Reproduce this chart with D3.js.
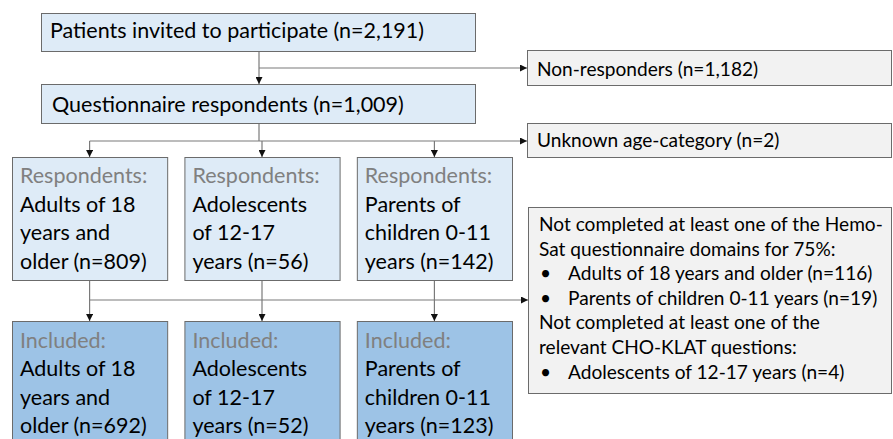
<!DOCTYPE html>
<html>
<head>
<meta charset="utf-8">
<script src="https://cdn.jsdelivr.net/npm/d3@7"></script>
<style>
  html, body { margin: 0; padding: 0; background: #fff; }
  svg text { font-family: Lato, "Open Sans", sans-serif; }
</style>
</head>
<body>
<div id="chart"></div>
<script>
// flow data
const invited = 2191;
const respondents = 1009;
const nonResponders = 1182;
const unknownAge = 2;

const groups = ['adults', 'adolescents', 'parents'];
const groupLines = [
    ['Adults of 18', 'years and', 'older'],
    ['Adolescents', 'of 12-17', 'years'],
    ['Parents of', 'children 0-11', 'years']
];
const groupRespondents = [809, 56, 142];
const groupIncluded = [692, 52, 123];

const exclusionLines = [
    { text: 'Not completed at least one of the Hemo-', bullet: false },
    { text: 'Sat questionnaire domains for 75%:', bullet: false },
    { text: 'Adults of 18 years and older (n=116)', bullet: true },
    { text: 'Parents of children 0-11 years (n=19)', bullet: true },
    { text: 'Not completed at least one of the', bullet: false },
    { text: 'relevant CHO-KLAT questions:', bullet: false },
    { text: 'Adolescents of 12-17 years (n=4)', bullet: true }
];

const fmt = d3.format(',');
const width = 893, height = 439;

const colors = {
    light: '#deebf7',
    dark: '#9dc3e6',
    grey: '#f2f2f2',
    border: '#6b6b6b',
    line: '#7a7a7a',
    label: '#808080',
    text: '#000'
};

const svg = d3.select('#chart')
    .append('svg')
    .attr('width', width)
    .attr('height', height);

svg.append('defs').append('marker')
    .attr('id', 'arrow')
    .attr('viewBox', '0 0 10 10')
    .attr('refX', 10).attr('refY', 5)
    .attr('markerWidth', 7).attr('markerHeight', 7)
    .attr('markerUnits', 'userSpaceOnUse')
    .attr('orient', 'auto')
    .append('path')
    .attr('d', 'M0,0L10,5L0,10Z')
    .attr('fill', '#111');

// columns for the three age groups
const x = d3.scaleBand()
    .domain(groups)
    .range([12, 512])
    .paddingInner(0.1);
const cx = g => x(g) + x.bandwidth() / 2;

const mainX = 259;
const sideX = 527, sideRight = 891;
const fontMain = 21.5, fontSide = 19.1;

function box(x0, y0, w, h, fill) {
    svg.append('rect')
        .attr('x', x0 + 0.5).attr('y', y0 + 0.5)
        .attr('width', w).attr('height', h)
        .attr('fill', fill)
        .attr('stroke', colors.border)
        .attr('stroke-width', 1);
}

function label(txt, x0, y0, size, color) {
    return svg.append('text')
        .attr('x', x0).attr('y', y0)
        .attr('font-size', size)
        .attr('fill', color || colors.text)
        .text(txt);
}

function link(points, arrow) {
    const p = svg.append('path')
        .attr('d', d3.line()(points))
        .attr('fill', 'none')
        .attr('stroke', colors.line)
        .attr('stroke-width', 1.2);
    if (arrow) p.attr('marker-end', 'url(#arrow)');
}

/* connectors */
link([[mainX, 51], [mainX, 84]], true);
link([[mainX, 68], [sideX, 68]], true);
link([[mainX, 123], [mainX, 141]], false);
link([[cx(groups[0]), 141], [sideX, 141]], true);
groups.forEach(g => link([[cx(g), 141], [cx(g), 157]], true));
groups.forEach(g => link([[cx(g), 280], [cx(g), 300]], false));
link([[cx(groups[0]), 300], [sideX + 1, 300]], true);
groups.forEach(g => link([[cx(g), 300], [cx(g), 321]], true));

/* top boxes */
box(41, 13, 434, 38, colors.light);
label(`Patients invited to participate (n=${fmt(invited)})`, 50, 38, fontMain);

box(41, 84, 434, 39, colors.light);
label(`Questionnaire respondents (n=${fmt(respondents)})`, 52, 112, fontMain);

box(sideX, 50, sideRight - sideX, 35, colors.grey);
label(`Non-responders (n=${fmt(nonResponders)})`, 537, 76, fontSide);

box(sideX, 123, sideRight - sideX, 34, colors.grey);
label(`Unknown age-category (n=${unknownAge})`, 537, 147, fontSide);

/* group boxes */
const lineStep = 28.5;
groups.forEach((g, i) => {
    const x0 = x(g);
    box(x0, 157, x.bandwidth(), 123, colors.light);
    label('Respondents:', x0 + 8, 183, fontMain, colors.label);
    groupLines[i].forEach((t, j) => {
        const last = j === groupLines[i].length - 1;
        label(last ? `${t} (n=${groupRespondents[i]})` : t, x0 + 8, 183 + (j + 1) * lineStep, fontMain);
    });

    box(x0, 321, x.bandwidth(), 140, colors.dark);
    label('Included:', x0 + 8, 347.5, fontMain, colors.label);
    groupLines[i].forEach((t, j) => {
        const last = j === groupLines[i].length - 1;
        label(last ? `${t} (n=${groupIncluded[i]})` : t, x0 + 8, 347.5 + (j + 1) * lineStep, fontMain);
    });
});

/* exclusion box */
box(sideX + 1, 207, sideRight - sideX - 1, 186, colors.grey);
exclusionLines.forEach((d, i) => {
    const y0 = 231 + i * 24.6;
    if (d.bullet) {
        label('\u2022', 540, y0, fontSide);
        label(d.text, 568, y0, fontSide);
    } else {
        label(d.text, 539, y0, fontSide);
    }
});
</script>
</body>
</html>
